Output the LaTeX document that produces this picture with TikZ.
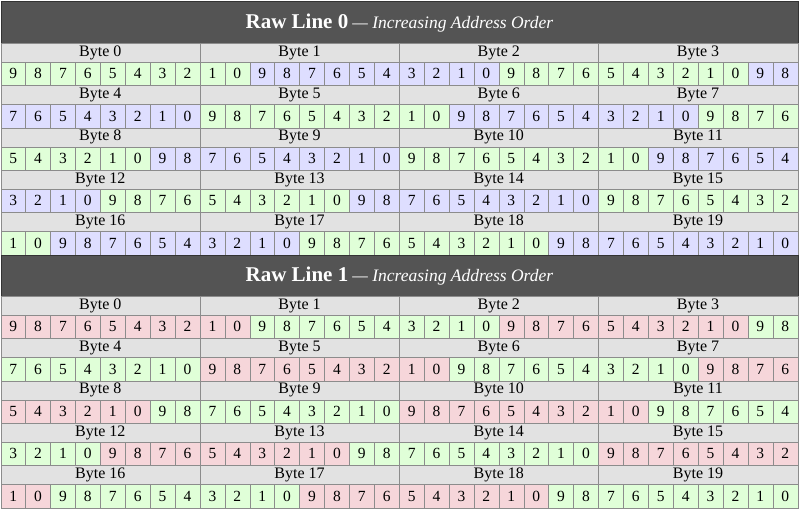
\documentclass[tikz,border=0pt]{standalone}
\usepackage{fontspec}
\setmainfont{Liberation Serif}
\usetikzlibrary{positioning}

\definecolor{pixgreen}{RGB}{224,255,216}
\definecolor{pixblue}{RGB}{222,222,255}
\definecolor{pixred}{RGB}{246,214,218}
\definecolor{bytegray}{RGB}{226,226,226}
\definecolor{titlegray}{RGB}{84,84,84}

\tikzset{
  titlebar/.style={draw=black!80, fill=titlegray, text=white, anchor=north west,
    minimum width=797pt, minimum height=41.5pt, inner sep=0pt, line width=0.8pt},
  bytecell/.style={draw=black!45, fill=bytegray, anchor=north west,
    minimum width=199.25pt, minimum height=19pt, inner sep=0pt,
    font=\fontsize{16}{16}\selectfont},
  bitcell/.style={draw=black!45, anchor=north west,
    minimum width=24.906pt, minimum height=23.3pt, inner sep=0pt,
    font=\fontsize{15.5}{15.5}\selectfont}
}

\begin{document}
\begin{tikzpicture}[x=1pt,y=-1pt]
  \useasboundingbox (0,0) rectangle (800,511);
  \fill[white] (0,0) rectangle (800,511);

  \foreach \ln/\ya/\ca/\cb in {0/1.5/pixgreen/pixblue, 1/254.5/pixred/pixgreen} {
    % title bar of the line
    \node[titlebar] (title\ln) at (0.5,\ya)
      {{\fontsize{21}{21}\selectfont\bfseries Raw Line \ln}\,
       {\fontsize{17.5}{17.5}\selectfont\itshape --- Increasing Address Order}};
    \foreach \r in {0,...,4} {
      \foreach \c in {0,...,3} {
        \pgfmathtruncatemacro\byte{4*\r+\c}
        \node[bytecell] (byte\ln-\byte) at ({0.5+\c*199.25},{\ya+41.5+\r*42.3}) {Byte \byte};
        \foreach \b in {0,...,7} {
          \pgfmathtruncatemacro\k{8*\byte+\b}
          \pgfmathtruncatemacro\bit{9-mod(\k,10)}
          \pgfmathtruncatemacro\pix{mod(div(\k,10),2)}
          \ifnum\pix=0 \def\col{\ca}\else\def\col{\cb}\fi
          \node[bitcell, fill=\col] (bit\ln-\k)
            at ({0.5+(8*\c+\b)*24.906},{\ya+60.5+\r*42.3}) {\bit};
        }
      }
    }
  }
\end{tikzpicture}
\end{document}
